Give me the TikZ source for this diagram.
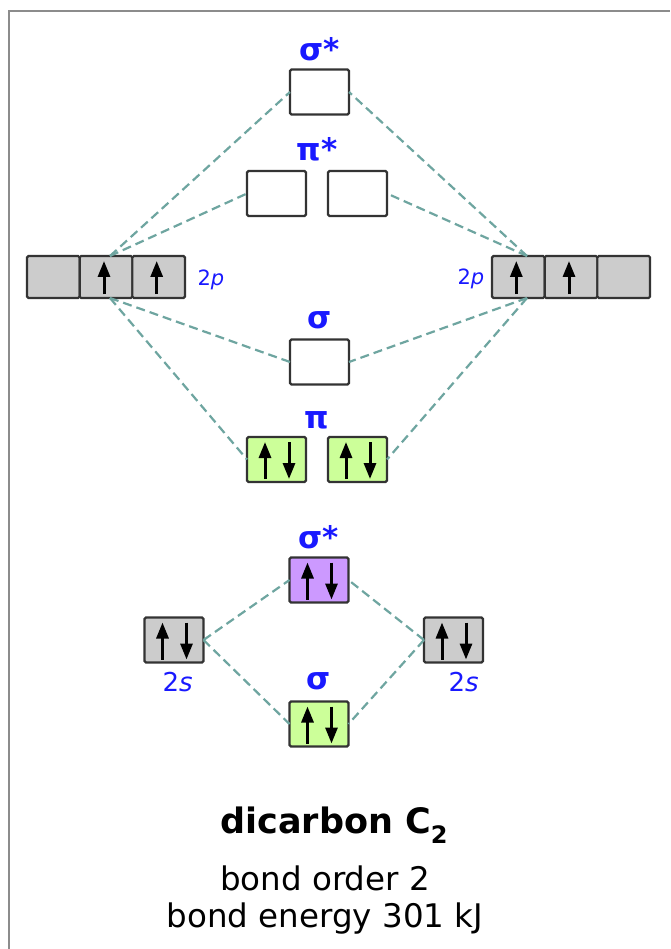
\documentclass[tikz,border=0pt]{standalone}
\usepackage{fontspec}
\setmainfont{DejaVu Sans}
\usetikzlibrary{arrows.meta,calc}
\definecolor{lnk}{RGB}{110,165,160}
\definecolor{orbgray}{RGB}{204,204,204}
\definecolor{orbgreen}{RGB}{204,255,153}
\definecolor{orbpurple}{RGB}{204,153,255}
\definecolor{lblblue}{RGB}{25,25,255}
\newcommand\elup[1]{\draw[el] ($(#1.south)+(-2,-4)$) -- ($(#1.north)+(-2,5)$);}
\newcommand\elpair[1]{%
  \draw[el] ($(#1.south west)+(18,-3)$) -- ($(#1.north west)+(18,5)$);
  \draw[el] ($(#1.north west)+(42,5)$) -- ($(#1.south west)+(42,-3)$);}
\begin{document}
\begin{tikzpicture}[x=1pt,y=-1pt,
  orb/.style={draw=black!80, line width=2.2pt, rounded corners=1.5pt, minimum width=59pt, minimum height=45pt, inner sep=0pt, outer sep=0pt},
  cell/.style={orb, minimum width=52.7pt, minimum height=42pt, fill=orbgray},
  link/.style={draw=lnk, line width=2.2pt, dash pattern=on 9pt off 5pt},
  el/.style={line width=3pt, -{Triangle[length=16pt,width=12pt]}},
  mo/.style={text=lblblue, font=\fontsize{31}{31}\selectfont\bfseries, anchor=base},
  ao/.style={text=lblblue, anchor=base west},
]
\useasboundingbox (0,0) rectangle (670,949);
\fill[white] (0,0) rectangle (670,949);
\draw[black!45, line width=2.8pt] (9,949) -- (9,11) -- (670,11);

% link junctions
\coordinate (LT) at (110,256);
\coordinate (LB) at (110,298);
\coordinate (RT) at (527,256);
\coordinate (RB) at (527,298);

% top MOs
\node[orb, fill=white] (sas) at (319.5,92) {};
\node[orb, fill=white] (pasl) at (276.5,193.5) {};
\node[orb, fill=white] (pasr) at (357.5,193.5) {};
\node[orb, fill=white] (sp) at (319.5,362) {};
\node[orb, fill=orbgreen] (pl) at (276.5,459.5) {};
\node[orb, fill=orbgreen] (pr) at (357.5,459.5) {};

% 2p atomic orbitals
\node[cell] (L1) at (53.3,277) {};
\node[cell] (L2) at (106,277) {};
\node[cell] (L3) at (158.7,277) {};
\node[cell] (R1) at (518.3,277) {};
\node[cell] (R2) at (571,277) {};
\node[cell] (R3) at (623.7,277) {};

% 2s level
\node[orb, fill=orbpurple] (sss) at (319,580) {};
\node[orb, fill=orbgray] (sl) at (174,640) {};
\node[orb, fill=orbgray] (sr) at (453.5,640) {};
\node[orb, fill=orbgreen] (ss) at (319,724) {};

% connectors
\draw[link] (LT) -- (sas.west);
\draw[link] (LT) -- (pasl.west);
\draw[link] (LB) -- (sp.west);
\draw[link] (LB) -- (pl.west);
\draw[link] (RT) -- (sas.east);
\draw[link] (RT) -- (pasr.east);
\draw[link] (RB) -- (sp.east);
\draw[link] (RB) -- (pr.east);
\draw[link] (sl.east) -- (sss.west);
\draw[link] (sl.east) -- (ss.west);
\draw[link] (sr.west) -- (sss.east);
\draw[link] (sr.west) -- (ss.east);

% electrons
\elup{L2}\elup{L3}\elup{R1}\elup{R2}
\elpair{pl}\elpair{pr}\elpair{sss}\elpair{sl}\elpair{sr}\elpair{ss}

% MO labels
\node[mo] (lsas) at ($(sas.north)+(0,-9)$) {σ*};
\node[mo] (lpas) at ($(pasl.north east)!0.5!(pasr.north west)+(0,-10)$) {π*};
\node[mo] (lsp) at ($(sp.north)+(0,-11)$) {σ};
\node[mo] (lpi) at ($(pl.north east)!0.5!(pr.north west)+(0,-9)$) {π};
\node[mo] (lsss) at ($(sss.north)+(0,-9)$) {σ*};
\node[mo] (lss) at ($(ss.north)+(0,-12)$) {σ};

% AO labels
\node[ao, font=\fontsize{21}{21}\selectfont] (l2pl) at (194,285) {2\textit{p}};
\node[ao, font=\fontsize{21}{21}\selectfont] (l2pr) at (454,284) {2\textit{p}};
\node[ao, font=\fontsize{26}{26}\selectfont] (l2sl) at (159,691) {2\textit{s}};
\node[ao, font=\fontsize{26}{26}\selectfont] (l2sr) at (445,691) {2\textit{s}};

% caption
\node[anchor=base, font=\fontsize{35}{35}\selectfont\bfseries] (title) at (334,833)
  {dicarbon C\raisebox{-10pt}{\fontsize{24}{24}\selectfont 2}};
\node[anchor=base, font=\fontsize{32.5}{32.5}\selectfont] (bo) at (325,890) {bond order 2};
\node[anchor=base, font=\fontsize{32.5}{32.5}\selectfont] (be) at (325,927) {bond energy 301 kJ};
\end{tikzpicture}
\end{document}
